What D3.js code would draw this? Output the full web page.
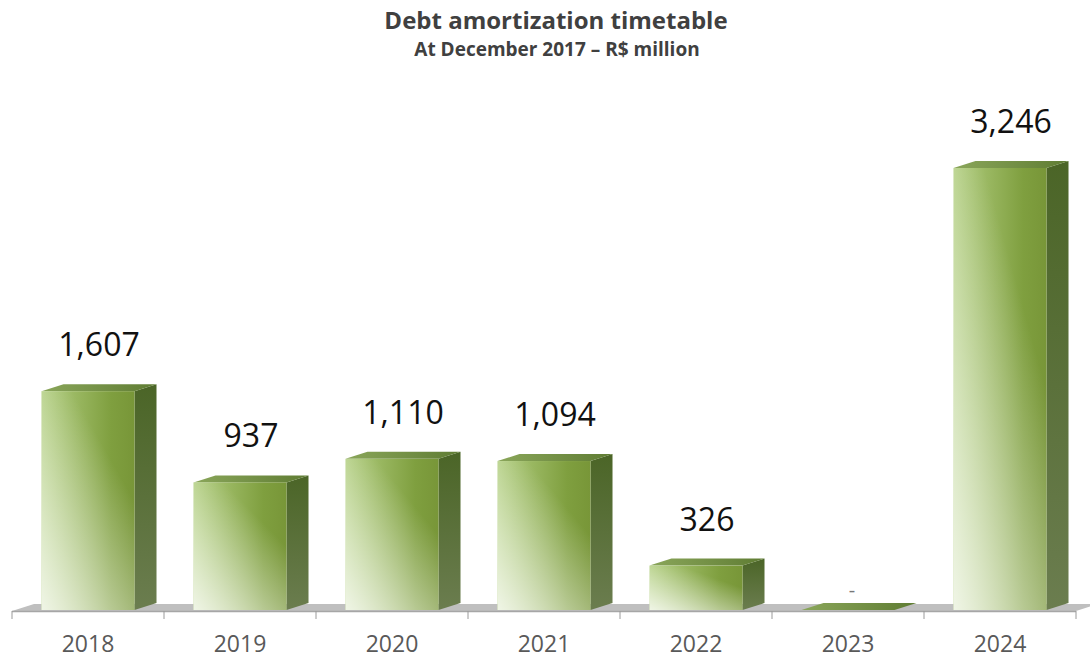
<!DOCTYPE html>
<html>
<head>
<meta charset="utf-8">
<script src="https://cdn.jsdelivr.net/npm/d3@7"></script>
<style>
  body { margin: 0; background: #fff; }
  svg { display: block; font-family: "Open Sans", sans-serif; }
</style>
</head>
<body>
<div id="chart"></div>
<script>
// Data
const years = ["2018", "2019", "2020", "2021", "2022", "2023", "2024"];
const amounts = [1607, 937, 1110, 1094, 326, 0, 3246];
const titleText = "Debt amortization timetable";
const subtitleText = "At December 2017 \u2013 R$ million";

const width = 1090, height = 659;
const floorY = 610;
const depthX = 22, depthY = -7;   // 3D offset of the back faces

const svg = d3.select("#chart").append("svg")
    .attr("width", width)
    .attr("height", height)
    .attr("viewBox", [0, 0, width, height]);

const x = d3.scaleBand()
    .domain(years)
    .range([12, 1076])
    .padding(0);

const y = d3.scaleLinear()
    .domain([0, 3246])
    .range([floorY, 168]);

const barW = x.bandwidth() * 0.612;

// gradients
const defs = svg.append("defs");
const frontGrad = defs.append("linearGradient").attr("id", "front")
    .attr("x1", 0).attr("y1", 0).attr("x2", 1).attr("y2", 0);
frontGrad.append("stop").attr("offset", "0%").attr("stop-color", "#b3cf82");
frontGrad.append("stop").attr("offset", "75%").attr("stop-color", "#7f9f3f");
frontGrad.append("stop").attr("offset", "100%").attr("stop-color", "#789638");

const shineGrad = defs.append("linearGradient").attr("id", "shine")
    .attr("x1", 0).attr("y1", 1).attr("x2", 0.6).attr("y2", 0.2);
shineGrad.append("stop").attr("offset", "0%").attr("stop-color", "#fff").attr("stop-opacity", 0.8);
shineGrad.append("stop").attr("offset", "100%").attr("stop-color", "#fff").attr("stop-opacity", 0);

const sideGrad = defs.append("linearGradient").attr("id", "side")
    .attr("x1", 0).attr("y1", 0).attr("x2", 0).attr("y2", 1);
sideGrad.append("stop").attr("offset", "0%").attr("stop-color", "#4b6527");
sideGrad.append("stop").attr("offset", "100%").attr("stop-color", "#6b7d4f");

const topGrad = defs.append("linearGradient").attr("id", "topface")
    .attr("x1", 0).attr("y1", 0).attr("x2", 1).attr("y2", 0);
topGrad.append("stop").attr("offset", "0%").attr("stop-color", "#8aa65a");
topGrad.append("stop").attr("offset", "100%").attr("stop-color", "#5f7c33");

// title
svg.append("text")
    .attr("x", 556).attr("y", 29)
    .attr("text-anchor", "middle")
    .attr("font-size", 24).attr("font-weight", "bold")
    .attr("fill", "#404040")
    .text(titleText);

svg.append("text")
    .attr("x", 557).attr("y", 56)
    .attr("text-anchor", "middle")
    .attr("font-size", 19).attr("font-weight", "bold")
    .attr("fill", "#404040")
    .text(subtitleText);

// floor
const [x0, x1] = x.range();
svg.append("path")
    .attr("d", `M${x0},${floorY + 1}L${x1},${floorY + 1}L${x1 + depthX},${floorY + 1 + depthY}L${x0 + depthX},${floorY + 1 + depthY}Z`)
    .attr("fill", "#bfbfbf");
svg.append("line")
    .attr("x1", x0).attr("x2", x1)
    .attr("y1", floorY + 1.5).attr("y2", floorY + 1.5)
    .attr("stroke", "#a6a6a6").attr("stroke-width", 1.5);

// ticks at category boundaries
const tickXs = years.map(d => x(d)).concat([x1]);
svg.append("g").selectAll("line")
    .data(tickXs)
    .join("line")
    .attr("x1", d => d).attr("x2", d => d)
    .attr("y1", floorY + 1).attr("y2", floorY + 9)
    .attr("stroke", "#9a9a9a").attr("stroke-width", 1);

// bars
const data = years.map((d, i) => ({ year: d, value: amounts[i] }));
const bars = svg.append("g").selectAll("g")
    .data(data)
    .join("g");

const left = d => x(d.year) + (x.bandwidth() - barW) / 2;

bars.filter(d => d.value > 0).append("path")
    .attr("d", d => {
        const l = left(d) + barW, t = y(d.value);
        return `M${l},${floorY}L${l + depthX},${floorY + depthY}L${l + depthX},${t + depthY}L${l},${t}Z`;
    })
    .attr("fill", "url(#side)");

bars.append("path")
    .attr("d", d => {
        const l = left(d), t = y(d.value);
        return `M${l},${t}L${l + barW},${t}L${l + barW + depthX},${t + depthY}L${l + depthX},${t + depthY}Z`;
    })
    .attr("fill", "url(#topface)");

bars.filter(d => d.value > 0).append("rect")
    .attr("x", left)
    .attr("y", d => y(d.value))
    .attr("width", barW)
    .attr("height", d => floorY - y(d.value))
    .attr("fill", "url(#front)");

bars.filter(d => d.value > 0).append("rect")
    .attr("x", left)
    .attr("y", d => y(d.value))
    .attr("width", barW)
    .attr("height", d => floorY - y(d.value))
    .attr("fill", "url(#shine)");

// value labels
const fmt = d3.format(",");
bars.append("text")
    .attr("x", d => x(d.year) + x.bandwidth() / 2 + (d.value > 0 ? depthX / 2 : 4))
    .attr("y", d => d.value > 0 ? y(d.value) - 35 : floorY - 13)
    .attr("text-anchor", "middle")
    .attr("font-size", d => d.value > 0 ? 32 : 20)
    .attr("fill", d => d.value > 0 ? "#111" : "#777")
    .text(d => d.value > 0 ? fmt(d.value) : "-");

// category labels
svg.append("g").selectAll("text")
    .data(years)
    .join("text")
    .attr("x", d => x(d) + x.bandwidth() / 2)
    .attr("y", 652)
    .attr("text-anchor", "middle")
    .attr("font-size", 23)
    .attr("fill", "#595959")
    .text(d => d);
</script>
</body>
</html>
